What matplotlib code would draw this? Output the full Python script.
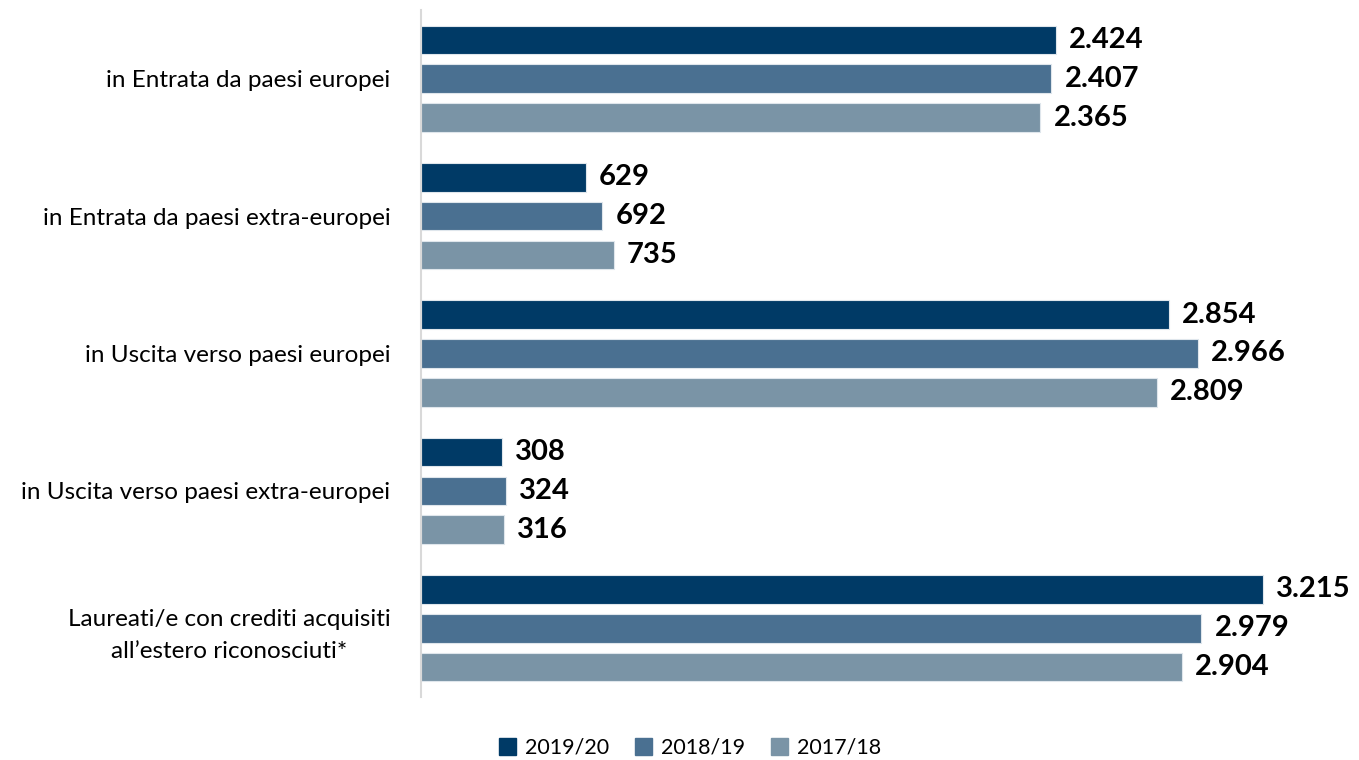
import numpy as np
import matplotlib.pyplot as plt
from matplotlib.patches import Patch

plt.rcParams['font.family'] = ['Lato', 'DejaVu Sans']

categories = ['in Entrata da paesi europei',
              'in Entrata da paesi extra-europei',
              'in Uscita verso paesi europei',
              'in Uscita verso paesi extra-europei',
              'Laureati/e con crediti acquisiti\nall\u2019estero riconosciuti*']
years = ['2019/20', '2018/19', '2017/18']
v_1920 = [2424, 629, 2854, 308, 3215]
v_1819 = [2407, 692, 2966, 324, 2979]
v_1718 = [2365, 735, 2809, 316, 2904]
colors = ['#003A66', '#4A7091', '#7A94A6']

fig = plt.figure(figsize=(13.59, 7.6), dpi=100)
ax = fig.add_axes([421 / 1359, 63 / 760, 938 / 1359, 687 / 760])

y = np.arange(len(categories))
step = 0.283
h = 0.208
for i, (vals, c) in enumerate(zip([v_1920, v_1819, v_1718], colors)):
    pos = y + (i - 1) * step
    ax.barh(pos, vals, height=h, color=c, edgecolor='#dfe6ec', linewidth=0.8)
    for p, v in zip(pos, vals):
        ax.text(v + 50, p, f'{v:,}'.replace(',', '.'), va='center', ha='left',
                fontsize=21, fontweight='bold', color='black')

ax.set_xlim(0, 3581)
ax.set_ylim(4.5, -0.5)
ax.set_yticks(y)
ax.set_yticklabels(categories, fontsize=17.5, ha='right', multialignment='center',
                   linespacing=1.6)
ax.tick_params(axis='y', length=0, pad=22)
ax.set_xticks([])
for s in ['top', 'right', 'bottom']:
    ax.spines[s].set_visible(False)
ax.spines['left'].set_color('#d9d9d9')
ax.spines['left'].set_linewidth(1.5)

handles = [Patch(color=c, label=l) for c, l in zip(colors, years)]
fig.legend(handles=handles, loc='center', bbox_to_anchor=(690 / 1359, 1 - 748 / 760),
           ncol=3, frameon=False, fontsize=15.5, handlelength=0.8, handleheight=0.8,
           handletextpad=0.4, columnspacing=1.2)

fig.savefig('out.png', dpi=100)
